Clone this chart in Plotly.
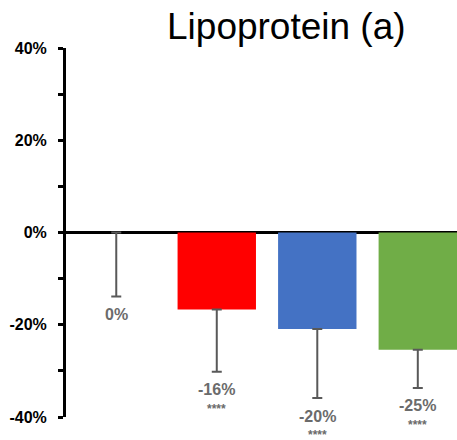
import plotly.graph_objects as go

categories = ["Placebo", "Dose 1", "Dose 2", "Dose 3"]
values = [0, -16.7, -20.9, -25.4]
err_minus = [13.9, 13.5, 15.0, 8.3]
labels = ["0%", "-16%", "-20%", "-25%"]
signif = ["", "****", "****", "****"]
colors = ["rgba(0,0,0,0)", "#FF0000", "#4472C4", "#70AD47"]
ytick_vals = [-40, -30, -20, -10, 0, 10, 20, 30, 40]
ytick_text = ["-40%", "", "-20%", "", "0%", "", "20%", "", "40%"]

fig = go.Figure()
fig.add_trace(go.Bar(
    x=categories, y=values, marker=dict(color=colors, line=dict(width=0)),
    width=0.78,
    error_y=dict(type="data", symmetric=False, array=[0]*len(values),
                 arrayminus=err_minus, color="#595959", thickness=2, width=5),
    showlegend=False,
))

for i, c in enumerate(categories):
    yend = values[i] - err_minus[i]
    fig.add_annotation(x=c, y=yend, text="<b>" + labels[i] + "</b>", showarrow=False,
                       yanchor="middle", yshift=-18,
                       font=dict(family="Liberation Sans, Arial", size=16, color="#6b6b6b"))
    if signif[i]:
        fig.add_annotation(x=c, y=yend, text="<b>" + signif[i] + "</b>", showarrow=False,
                           yanchor="top", yshift=-29, borderpad=0,
                           font=dict(family="Liberation Sans, Arial", size=12, color="#6b6b6b"))

fig.add_annotation(text="Lipoprotein (a)", xref="paper", yref="paper", x=0.563, y=1.0,
                   yshift=22, yanchor="middle", showarrow=False,
                   font=dict(family="Liberation Sans, Arial", size=37, color="black"))

fig.update_layout(
    width=457, height=440,
    margin=dict(l=66, r=0, t=48, b=23),
    paper_bgcolor="white", plot_bgcolor="white",
    bargap=0.22,
    xaxis=dict(range=[-0.5, 3.39], showticklabels=False, showline=False, ticks="",
               showgrid=False, zeroline=False),
    yaxis=dict(range=[-40, 40], tickvals=ytick_vals, ticktext=ytick_text,
               showgrid=False, zeroline=True, zerolinecolor="black", zerolinewidth=3,
               showline=True, linecolor="black", linewidth=3, ticks="outside",
               ticklen=5, tickwidth=2.5, tickcolor="black", ticklabelstandoff=8,
               tickfont=dict(family="Liberation Sans, Arial", size=16, color="black",
                             weight="bold")),
)

fig.write_html("out.html")
